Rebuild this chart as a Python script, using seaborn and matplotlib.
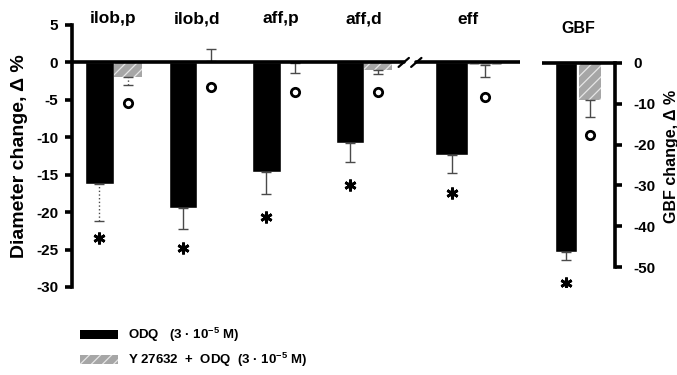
import matplotlib
matplotlib.use("Agg")
import matplotlib.pyplot as plt
import matplotlib.transforms as mtrans
from matplotlib.patches import Patch
import numpy as np
import pandas as pd
import seaborn as sns

sns.set_theme(style="ticks")
plt.rcParams["font.family"] = ["Liberation Sans", "DejaVu Sans"]
plt.rcParams["mathtext.default"] = "regular"
plt.rcParams["hatch.linewidth"] = 0.9
plt.rcParams["text.color"] = "black"
plt.rcParams["axes.labelcolor"] = "black"

# ---------------- data ----------------
categories = ["ilob,p", "ilob,d", "aff,p", "aff,d", "eff"]
odq = [-16.2, -19.5, -14.6, -10.8, -12.4]
odq_err = [5.0, 2.8, 3.0, 2.5, 2.4]
y27 = [-1.9, 0.2, -0.1, -1.0, -0.3]
y27_err = [1.1, 1.65, 1.35, 0.5, 1.7]
odq_star = [-23.4, -24.8, -20.7, -16.4, -17.5]
y27_circle = [-5.45, -3.3, -4.0, -4.0, -4.65]

gbf_label = "GBF"
gbf_odq = [-46.4]
gbf_odq_err = [1.8]
gbf_y27 = [-9.0]
gbf_y27_err = [4.2]
gbf_star = [-53.9]
gbf_circle = [-17.7]

series = ["ODQ   (3 · 10$^{-5}$ M)", "Y 27632  +  ODQ  (3 · 10$^{-5}$ M)"]
left_ticks = [-30, -25, -20, -15, -10, -5, 0, 5]
right_ticks = [-50, -40, -30, -20, -10, 0]

# ---------------- layout ----------------
group_x = [0, 1, 2, 3, 4.25]
BLACK = "#000000"
GRAY = "#a6a6a6"
W, H = 677, 375

fig = plt.figure(figsize=(W / 100, H / 100), dpi=100)
ax = fig.add_axes([72 / W, (H - 287) / H, 448 / W, 262 / H])
ax2 = fig.add_axes([542 / W, (H - 287) / H, 73 / W, 262 / H])

df = pd.DataFrame({
    "x": group_x * 2,
    "site": categories * 2,
    "value": odq + y27,
    "series": [series[0]] * len(categories) + [series[1]] * len(categories),
})
common = dict(y="value", hue="series", hue_order=series, palette=[BLACK, GRAY],
              errorbar=None, saturation=1, legend=False)
sns.barplot(data=df[df.site != "eff"], x="x", native_scale=True, width=0.68, ax=ax, **common)
sns.barplot(data=df[df.site == "eff"], x="x", native_scale=True, width=0.8, ax=ax, **common)

dfg = pd.DataFrame({"panel": [gbf_label] * 2, "value": gbf_odq + gbf_y27, "series": series})
sns.barplot(data=dfg, x="panel", width=0.8, gap=0.06, ax=ax2, **common)


def decorate(axis, odq_v, odq_e, odq_m, y_v, y_e, y_m, dotted_idx=()):
    for p in list(axis.patches):
        h = p.get_height()
        xc = p.get_x() + p.get_width() / 2
        is_gray = not np.allclose(p.get_facecolor()[:3], (0, 0, 0))
        vals, errs, marks = (y_v, y_e, y_m) if is_gray else (odq_v, odq_e, odq_m)
        i = int(np.argmin(np.abs(np.array(vals) - h)))
        if is_gray:
            p.set_hatch("///")
            p.set_edgecolor("#e6e6e6")
            p.set_linewidth(0)
        yerr = [[errs[i]], [0]] if vals[i] < 0 else [[0], [errs[i]]]
        eb = axis.errorbar(xc, vals[i], yerr=yerr, fmt="none", ecolor="#4a4a4a",
                           elinewidth=1.0, capsize=3.5, capthick=1.0, zorder=1)
        if i in dotted_idx:
            for c in eb[2]:
                c.set_linestyle(":")
        if is_gray:
            axis.plot(xc, marks[i], "o", ms=6, mfc="white", mec="black", mew=2, zorder=4)
        else:
            axis.plot(xc, marks[i], marker=(6, 2, 0), ms=8.5, mec="black", mew=2.0,
                      ls="none", zorder=4)


decorate(ax, odq, odq_err, odq_star, y27, y27_err, y27_circle, dotted_idx=(0,))
decorate(ax2, gbf_odq, gbf_odq_err, gbf_star, gbf_y27, gbf_y27_err, gbf_circle)

# ---------------- left axis ----------------
ax.set_xlim(-0.497, 4.868)
ax.set_ylim(-30, 5)
for s in ["top", "right", "bottom"]:
    ax.spines[s].set_visible(False)
ax.spines["left"].set_linewidth(2.6)
ax.spines["left"].set_bounds(-30, 5)
ax.spines["left"].set_color("black")
ax.xaxis.set_visible(False)
ax.set_yticks(left_ticks)
ax.set_yticklabels([str(t) for t in left_ticks])
ax.tick_params(axis="y", length=5, width=2.6, pad=5, labelsize=11, colors="black")
for lbl in ax.get_yticklabels():
    lbl.set_fontweight("bold")
ax.set_ylabel("Diameter change, \u0394 %", fontsize=14, fontweight="bold", labelpad=6,
              color="black")

# zero line with axis break
ax.axhline(0, xmin=0, xmax=0.741, color="black", lw=2.6, zorder=3)
ax.axhline(0, xmin=0.768, xmax=1, color="black", lw=2.6, zorder=3)
btr = mtrans.blended_transform_factory(ax.transAxes, ax.transData)
ax.plot([0.729, 0.752], [-0.6, 0.6], color="black", lw=1.6, transform=btr, zorder=3)
ax.plot([0.757, 0.780], [-0.6, 0.6], color="black", lw=1.6, transform=btr, zorder=3)

# category labels
ttr = mtrans.blended_transform_factory(ax.transData, fig.transFigure)
for gx, c in zip(group_x, categories):
    ax.text(gx, 1 - 19 / H, c, transform=ttr, ha="center", va="center",
            fontsize=12.5, fontweight="bold", color="black")

# ---------------- right (GBF) axis ----------------
ax2.set_xlim(-0.6, 0.617)
ax2.set_ylim(-54.9, 9.31)
for s in ["top", "left", "bottom"]:
    ax2.spines[s].set_visible(False)
ax2.spines["right"].set_linewidth(2.6)
ax2.spines["right"].set_bounds(-50, 0)
ax2.spines["right"].set_color("black")
ax2.xaxis.set_visible(False)
ax2.yaxis.tick_right()
ax2.yaxis.set_label_position("right")
ax2.set_yticks(right_ticks)
ax2.set_yticklabels([str(t) for t in right_ticks])
ax2.tick_params(axis="y", left=False, right=True, length=5, width=2.6, pad=8,
                labelsize=11, colors="black")
for lbl in ax2.get_yticklabels():
    lbl.set_fontweight("bold")
ax2.set_ylabel("GBF change, \u0394 %", fontsize=11.5, fontweight="bold", labelpad=6,
               color="black")
ax2.axhline(0, color="black", lw=2.6, zorder=3)
ttr2 = mtrans.blended_transform_factory(ax2.transData, fig.transFigure)
ax2.text(0, 1 - 28.5 / H, gbf_label, transform=ttr2, ha="center", va="center",
         fontsize=11.5, fontweight="bold", color="black")

# ---------------- legend ----------------
handles = [Patch(facecolor=BLACK, edgecolor=BLACK, lw=0),
           Patch(facecolor=GRAY, hatch="///", edgecolor="#e6e6e6", lw=0)]
fig.legend(handles, series, loc="upper left", bbox_to_anchor=(80 / W, 1 - 326 / H),
           frameon=False, borderpad=0, borderaxespad=0, handlelength=2.9,
           handleheight=0.6, handletextpad=0.75, labelspacing=0.5,
           prop={"size": 9.5, "weight": "bold"}, labelcolor="black")

fig.savefig("out.png", dpi=100)
